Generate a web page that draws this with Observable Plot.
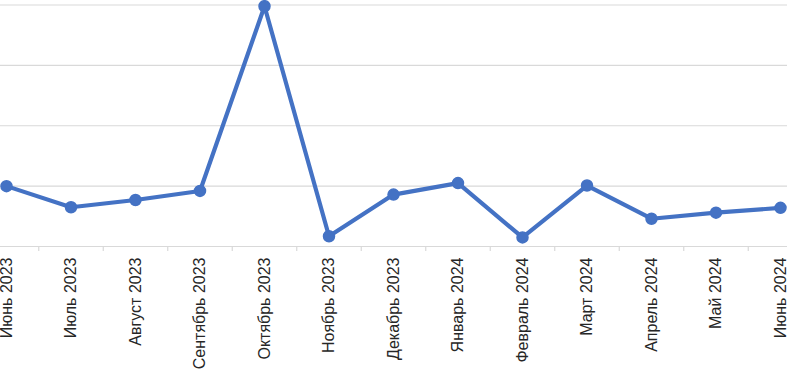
<!DOCTYPE html>
<html>
<head>
<meta charset="utf-8">
<script src="https://cdn.jsdelivr.net/npm/d3@7"></script>
<script src="https://cdn.jsdelivr.net/npm/@observablehq/plot@0.6"></script>
<style>
  html, body { margin: 0; padding: 0; background: #fff; }
  #chart svg { display: block; }
</style>
</head>
<body>
<div id="chart"></div>
<script>
const months = ["Июнь 2023", "Июль 2023", "Август 2023", "Сентябрь 2023", "Октябрь 2023", "Ноябрь 2023", "Декабрь 2023", "Январь 2024", "Февраль 2024", "Март 2024", "Апрель 2024", "Май 2024", "Июнь 2024"];
const values = [1.0, 0.65, 0.77, 0.92, 3.98, 0.17, 0.86, 1.05, 0.15, 1.01, 0.46, 0.56, 0.64];
const gridValues = [1, 2, 3, 4];

const data = months.map((m, i) => ({i, month: m, value: values[i]}));
const idx = months.map((m, i) => i);
const separators = idx.slice(0, -1).map(i => i + 0.5);

const chart = Plot.plot({
  width: 787,
  height: 372,
  marginLeft: 6,
  marginRight: 7,
  marginTop: 4.5,
  marginBottom: 126,
  style: {fontFamily: "'Liberation Sans', Arial, sans-serif", background: "#fff"},
  x: {type: "linear", domain: [0, 12], axis: null, label: null},
  y: {domain: [0, 4], axis: null, label: null},
  marks: [
    Plot.ruleY(gridValues, {x1: -0.5, x2: 12.5, stroke: "#d9d9d9", strokeWidth: 1.2}),
    Plot.ruleY([0], {x1: -0.5, x2: 12.5, stroke: "#d9d9d9", strokeWidth: 1.2}),
    Plot.axisX({ticks: separators, tickSize: 5, tickFormat: () => "", label: null, stroke: "#d9d9d9", strokeWidth: 1.2}),
    Plot.axisX({ticks: idx, tickFormat: i => months[i], label: null, tickRotate: -90, tickSize: 0, tickPadding: 11, fontSize: 16, fill: "#262626"}),
    Plot.line(data, {x: "i", y: "value", stroke: "#4472C4", strokeWidth: 4.2, strokeLinejoin: "round"}),
    Plot.dot(data, {x: "i", y: "value", r: 5.5, fill: "#4472C4", stroke: "#4472C4"})
  ]
});
document.getElementById("chart").appendChild(chart);
</script>
</body>
</html>
